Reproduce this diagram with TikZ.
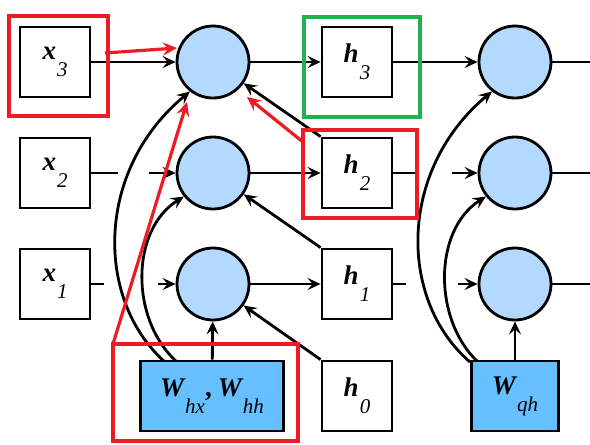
\documentclass[tikz,border=0pt]{standalone}
\usepackage{fontspec}
\setmainfont{Liberation Serif}
\usetikzlibrary{arrows.meta}
\definecolor{cfill}{RGB}{179,217,255}
\definecolor{wfill}{RGB}{102,191,255}
\definecolor{myred}{RGB}{237,28,36}
\definecolor{mygreen}{RGB}{34,177,76}
\newcommand{\mybig}[1]{{\fontsize{27}{27}\selectfont\bfseries\itshape #1}}
\newcommand{\mysub}[1]{\raisebox{-17pt}{\fontsize{21}{21}\selectfont\itshape #1}}
\newcommand{\mainlbl}[2]{\mybig{#1}\kern1pt\mysub{#2}}
\begin{document}
\begin{tikzpicture}[x=1pt,y=-1pt, line width=2.8pt,
 sq/.style={draw, minimum width=70pt, minimum height=70pt, inner sep=0pt, fill=white},
 cell/.style={draw, circle, minimum size=72pt, fill=cfill, inner sep=0pt},
 wbox/.style={draw, fill=wfill, minimum height=70pt, inner sep=0pt},
 arr/.style={-{Stealth[length=13pt,width=12pt,inset=5pt]}},
 hl/.style={draw=myred, line width=3.2pt},
 hlarr/.style={draw=myred, line width=3.2pt, -{Stealth[length=14pt,width=13pt,inset=5pt]}},
 gl/.style={draw=mygreen, line width=3.2pt},
]
\useasboundingbox (0,0) rectangle (590,445);
% inputs
\node[sq] (x3) at (55,62) {\mainlbl{x}{3}};
\node[sq] (x2) at (55,173) {\mainlbl{x}{2}};
\node[sq] (x1) at (55,284) {\mainlbl{x}{1}};
% hidden cells
\node[cell] (c3) at (213,62) {};
\node[cell] (c2) at (213,173) {};
\node[cell] (c1) at (213,284) {};
% hidden states
\node[sq] (h3) at (357,62) {\mainlbl{h}{3}};
\node[sq] (h2) at (357,173) {\mainlbl{h}{2}};
\node[sq] (h1) at (357,284) {\mainlbl{h}{1}};
\node[sq] (h0) at (357,396) {\mainlbl{h}{0}};
% output cells
\node[cell] (o3) at (515,62) {};
\node[cell] (o2) at (515,173) {};
\node[cell] (o1) at (515,284) {};
% coordinates
\coordinate (e3) at (590,62);
\coordinate (e2) at (590,173);
\coordinate (e1) at (590,284);
\coordinate (g2a) at (118,173);
\coordinate (g2b) at (149,173);
\coordinate (g1a) at (104,284);
\coordinate (g1b) at (158,284);
\coordinate (k2a) at (419,173);
\coordinate (k2b) at (452,173);
\coordinate (k1a) at (406,284);
\coordinate (k1b) at (458,284);
\coordinate (s1) at (165,362);
\coordinate (s2) at (177,362);
\coordinate (t1) at (470,362);
\coordinate (t2) at (478,362);
% curves (drawn before boxes)
\draw[arr] (s1) .. controls (95,300) and (95,170) .. (c3.232);
\draw[arr] (s2) .. controls (130,320) and (130,230) .. (c2.219);
\draw[arr] (t1) .. controls (398,300) and (398,170) .. (o3.232);
\draw[arr] (t2) .. controls (433,320) and (433,230) .. (o2.219);
% weight boxes
\node[wbox, minimum width=143pt] (W1) at (212,396) {\mybig{W}\kern1pt\mysub{hx}{\fontsize{27}{27}\selectfont\bfseries ,}\hspace{6pt}\mybig{W}\kern1pt\mysub{hh}};
\node[wbox, minimum width=87pt] (W2) at (515,396) {\mainlbl{W}{qh}};
% horizontal connections
\draw[arr] (x3) -- (c3);
\draw (x2) -- (g2a); \draw[arr] (g2b) -- (c2);
\draw (x1) -- (g1a); \draw[arr] (g1b) -- (c1);
\draw[arr] (c3) -- (h3);
\draw[arr] (c2) -- (h2);
\draw[arr] (c1) -- (h1);
\draw[arr] (h3) -- (o3);
\draw (h2) -- (k2a); \draw[arr] (k2b) -- (o2);
\draw (h1) -- (k1a); \draw[arr] (k1b) -- (o1);
\draw (o3) -- (e3);
\draw (o2) -- (e2);
\draw (o1) -- (e1);
% recurrent diagonals
\draw[arr] (h2.north west) -- (c3);
\draw[arr] (h1.north west) -- (c2);
\draw[arr] (h0.north west) -- (c1);
% weights upward
\draw[arr] (W1) -- (c1);
\draw[arr] (W2) -- (o1);
% highlights
\draw[hl] (9,16) rectangle (108,116);
\draw[hl] (113,344) rectangle (298,441);
\draw[hl] (303,130) rectangle (417,218);
\draw[gl] (304,17) rectangle (420,117);
\coordinate (r1s) at (105,53);
\coordinate (r1e) at (177,48);
\coordinate (r2s) at (113,344);
\coordinate (r2e) at (187,102);
\coordinate (r3s) at (303,142);
\coordinate (r3e) at (247,97);
\draw[hlarr] (r1s) -- (r1e);
\draw[hlarr] (r2s) -- (r2e);
\draw[hlarr] (r3s) -- (r3e);
\end{tikzpicture}
\end{document}
